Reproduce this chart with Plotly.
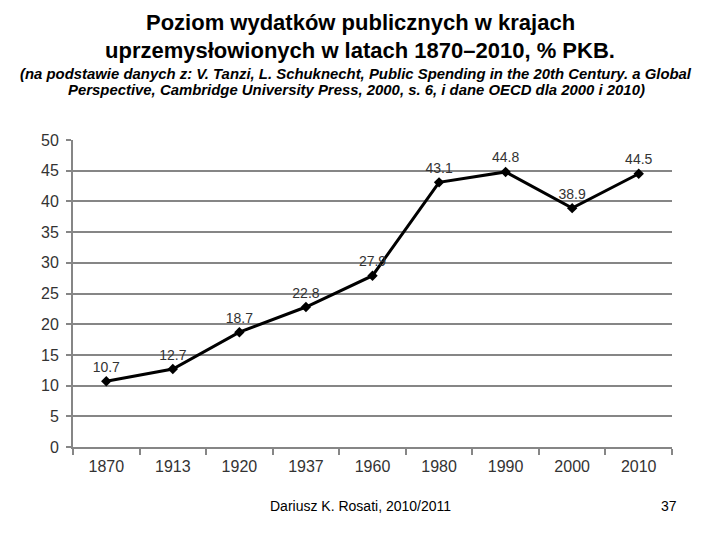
import plotly.graph_objects as go

years = ["1870", "1913", "1920", "1937", "1960", "1980", "1990", "2000", "2010"]
values = [10.7, 12.7, 18.7, 22.8, 27.9, 43.1, 44.8, 38.9, 44.5]
labels = ["10.7", "12.7", "18.7", "22.8", "27.9", "43.1", "44.8", "38.9", "44.5"]
y_ticks = [0, 5, 10, 15, 20, 25, 30, 35, 40, 45, 50]

title_lines = ["<b>Poziom wydatków publicznych w krajach</b>",
               "<b>uprzemysłowionych w latach 1870–2010, % PKB.</b>"]
subtitle_lines = ["<b><i>(na podstawie danych z: V. Tanzi, L. Schuknecht, Public Spending in the 20th Century. a Global</i></b>",
                  "<b><i>Perspective, Cambridge University Press, 2000, s. 6, i dane OECD dla 2000 i 2010)</i></b>"]
footer_text = "Dariusz K. Rosati, 2010/2011"
page_number = "37"

fig = go.Figure()
fig.add_trace(go.Scatter(
    x=years, y=values, text=labels,
    mode="lines+markers+text",
    line=dict(color="black", width=3),
    marker=dict(symbol="diamond", size=8, color="black"),
    textposition="top center",
    textfont=dict(family="Liberation Sans, Arial", size=14, color="#333333"),
    cliponaxis=False,
    showlegend=False,
))

ML, MR, MT, MB = 73, 48, 140, 93
W, H = 720, 540
plot_h = H - MT - MB
plot_w = W - ML - MR

def py(pix):
    return (H - MB - pix) / plot_h

def px(pix):
    return (pix - ML) / plot_w

def ann(text, x, y, size, xanchor="center"):
    return dict(text=text, x=px(x), y=py(y), xref="paper", yref="paper",
                showarrow=False, xanchor=xanchor, yanchor="middle",
                font=dict(size=size, color="black"), align="center")

annotations = [
    ann(title_lines[0], 360, 22, 22),
    ann(title_lines[1], 360, 50, 22),
    ann(subtitle_lines[0], 356, 74, 14.9),
    ann(subtitle_lines[1], 356, 90, 14.9),
    ann(footer_text, 268, 506, 14, xanchor="left"),
    ann(page_number, 669, 506, 14),
]

fig.update_layout(
    width=W, height=H,
    margin=dict(l=ML, r=MR, t=MT, b=MB),
    paper_bgcolor="white", plot_bgcolor="white",
    font=dict(family="Liberation Sans, Arial", color="#222222"),
    xaxis=dict(
        type="category", range=[-0.5, 8.5],
        tickson="boundaries", ticks="outside", ticklen=6, tickwidth=2, tickcolor="#868686",
        showline=True, linecolor="#868686", linewidth=2,
        showgrid=False, tickfont=dict(size=16, color="#333333"),
        ticklabelstandoff=4,
        fixedrange=True,
    ),
    yaxis=dict(
        range=[0, 50], tickvals=y_ticks,
        ticks="outside", ticklen=5, tickwidth=2, tickcolor="#868686",
        showline=True, linecolor="#868686", linewidth=2,
        showgrid=True, gridcolor="#868686", gridwidth=2,
        zeroline=False,
        ticklabelstandoff=4,
        tickfont=dict(size=16, color="#333333"),
    ),
    annotations=annotations,
)

fig.write_html("out.html")
